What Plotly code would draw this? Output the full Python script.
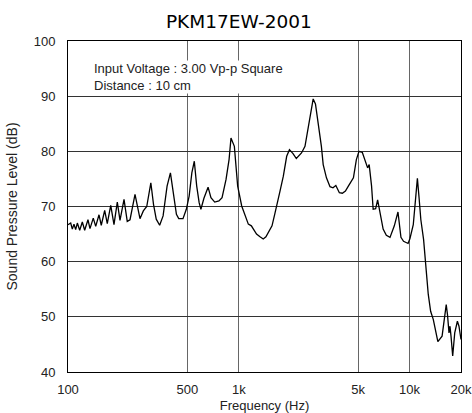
import plotly.graph_objects as go

freq_hz = [100, 103.7, 106, 108.4, 110.9, 113.4, 117.1, 121.3, 125.2, 130.9, 134.5,
           140.6, 145.3, 151.9, 156.6, 164, 169.8, 177.9, 185.9, 194.4, 201.6, 212.8,
           222.3, 230.7, 246.8, 255.2, 263.9, 276.1, 289.1, 305.5, 316.7, 328.6, 344.1,
           360.4, 380.3, 397.8, 412.4, 431.3, 445, 471.3, 493, 512, 531, 549, 567, 586,
           600, 625, 661, 687, 723, 765, 798, 842, 877, 900, 942, 985, 1040, 1087, 1137,
           1185, 1270, 1331, 1390, 1442, 1488, 1565, 1629, 1697, 1743, 1823, 1907, 1980,
           2077, 2172, 2329, 2441, 2547, 2647, 2726, 2811, 2920, 3045, 3120, 3260, 3420,
           3560, 3700, 3880, 4040, 4210, 4380, 4690, 4880, 5056, 5290, 5520, 5680, 5800,
           5990, 6120, 6330, 6500, 6710, 7000, 7310, 7680, 8140, 8550, 8900, 9220, 9800,
           10050, 10510, 10760, 11110, 11370, 11640, 12080, 12470, 12860, 13280, 13770,
           14640, 15500, 16390, 16670, 17010, 17240, 17480, 17880, 18380, 19050, 19460,
           20000]

spl_db = [66.7, 67.0, 65.9, 66.8, 65.8, 67.0, 65.7, 67.2, 65.7, 67.6, 66.0,
          67.9, 66.4, 68.5, 66.6, 69.3, 66.9, 70.2, 66.7, 70.8, 67.5, 71.3,
          67.3, 67.6, 72.2, 70.1, 67.8, 69.2, 70.0, 74.3, 70.4, 67.7, 66.6,
          68.3, 73.7, 76.1, 72.5, 68.6, 67.8, 67.8, 69.5, 71.9, 76.1, 78.2, 73.7, 70.7,
          69.5, 71.5, 73.5, 71.6, 70.8, 71.0, 71.6, 74.9, 78.5, 82.4, 80.9, 73.7, 70.1, 68.6, 66.8,
          66.5, 65.0, 64.5, 64.1, 64.5, 65.3, 66.5, 68.8, 71.5, 72.8, 75.5, 79.1, 80.3,
          79.6, 78.7, 79.7, 80.9, 84.5, 87.4, 89.5, 88.6, 85.1, 80.9, 77.6, 75.2, 73.6,
          73.4, 73.8, 72.5, 72.4, 72.8, 73.7, 75.2, 78.5, 80.0, 79.8, 78.2, 77.0, 77.6,
          73.7, 69.5, 69.6, 71.2, 68.9, 65.9, 64.8, 64.4, 66.5, 69.0, 64.4, 63.7, 63.3,
          64.2, 66.7, 70.0, 75.1, 71.5, 67.6, 64.0, 59.2, 54.1, 51.0, 49.5,
          45.5, 46.5, 52.2, 50.4, 47.1, 48.3, 46.5, 42.9, 47.1, 49.2, 48.3,
          45.9]

x_tick_vals = [100, 500, 1000, 5000, 10000, 20000]
x_tick_text = ["100", "500", "1k", "5k", "10k", "20k"]
y_tick_vals = [40, 50, 60, 70, 80, 90, 100]

FONT = "Liberation Sans, Arial, sans-serif"

fig = go.Figure()
fig.add_trace(go.Scatter(x=freq_hz, y=spl_db, mode="lines",
                         line=dict(color="black", width=1.3), showlegend=False,
                         hoverinfo="skip"))

fig.update_layout(
    width=472, height=413,
    margin=dict(l=68, r=11, t=41, b=41, autoexpand=False),
    paper_bgcolor="white", plot_bgcolor="white",
    title=dict(text="PKM17EW-2001", x=0.506, xanchor="center", y=0.947, yanchor="middle",
               font=dict(family="DejaVu Sans, sans-serif", size=18.5, color="#000")),
    font=dict(family=FONT, size=13, color="#222"),
    xaxis=dict(type="log", range=[2, 4.30103], tickvals=x_tick_vals, ticktext=x_tick_text,
               showgrid=True, gridcolor="#666", gridwidth=1,
               showline=True, mirror=True, linecolor="black", linewidth=1,
               ticks="", tickfont=dict(size=13, color="#222"), automargin=False,
               ticklabelstandoff=5,
               title=dict(text="Frequency (Hz)", font=dict(size=13, color="#222"), standoff=6),
               zeroline=False),
    yaxis=dict(range=[40, 100], tickvals=y_tick_vals,
               showgrid=True, gridcolor="#333", gridwidth=1,
               showline=True, mirror=True, linecolor="black", linewidth=1,
               ticks="", tickfont=dict(size=13, color="#222"), automargin=False,
               ticklabelstandoff=9,
               title=dict(text="Sound Pressure Level (dB)", font=dict(size=14, color="#222"), standoff=12),
               zeroline=False),
)

fig.add_annotation(xref="paper", yref="paper", x=0.0636, y=0.9426, xanchor="left", yanchor="top",
                   align="left", showarrow=False, bgcolor="white", borderpad=0,
                   text="Input Voltage : 3.00 Vp-p Square<br>Distance : 10 cm",
                   font=dict(family=FONT, size=13, color="#222"))

fig.write_html("out.html", config={"displayModeBar": False},
               post_script="document.body.style.margin='0';")
